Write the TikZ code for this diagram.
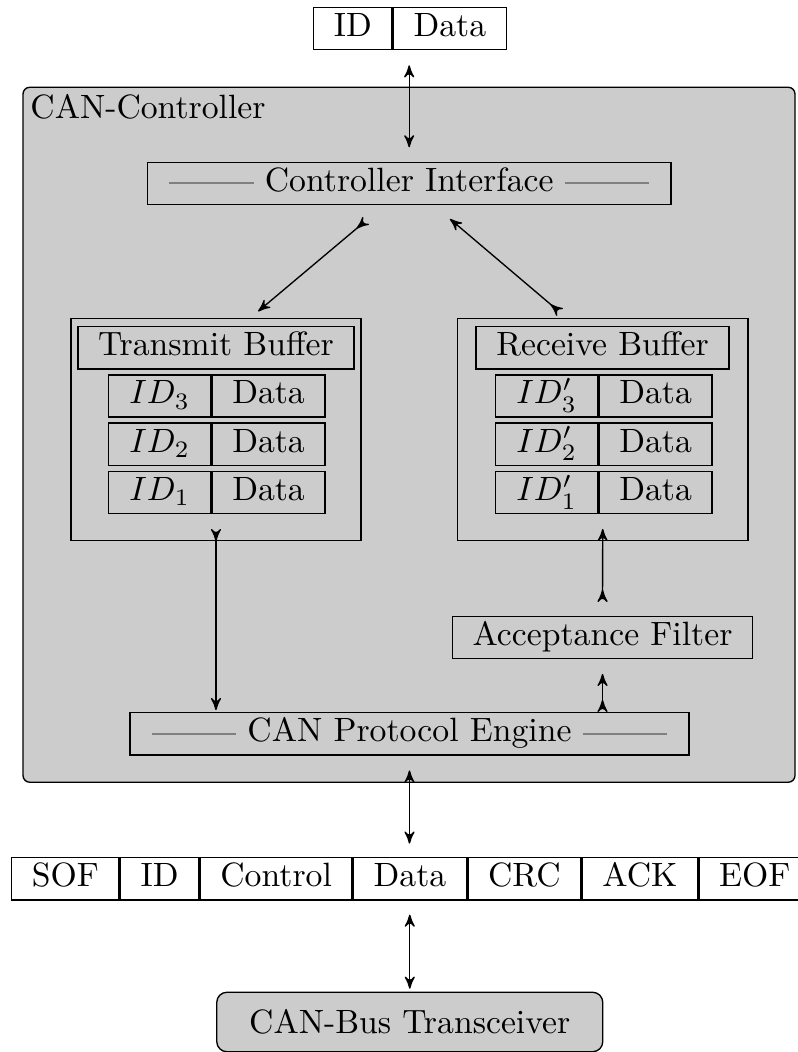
\documentclass[tikz,border=0pt]{standalone}
\usepackage{color}
\usepackage{amsmath}
\usetikzlibrary{arrows}

\newcommand{\sideline}{\textcolor{gray}{\rule[0.5ex]{25pt}{0.6pt}}}

\begin{document}
\begin{tikzpicture}[>=stealth',
  cell/.style={draw, inner xsep=6pt, inner ysep=0pt, minimum height=0.44cm,
    text height=1.5ex, text depth=.4ex},
  idcell/.style={cell, minimum width=1.064cm}]
  \useasboundingbox (0,0) rectangle (8.311,-10.970);

  \node[draw, fill=black!20, rounded corners=2pt, minimum width=8.05cm,
    minimum height=7.247cm] (ctrl) at (4.265,-4.5335) {};
  \node[anchor=north west, inner sep=2.2pt] (ctrllabel) at (ctrl.north west) {CAN-Controller};

  \node[cell, anchor=west] (topid) at (3.264,-0.299) {ID};
  \node[cell, anchor=west] (topdata) at (topid.east) {Data};

  \node[cell, minimum width=5.46cm] (iface) at (4.267,-1.913)
    {\sideline\ Controller Interface\ \sideline};

  \node[draw, minimum width=3.024cm, minimum height=2.315cm] (txbuf) at (2.252,-4.481) {};
  \node[cell] (txtitle) at (2.252,-3.627) {Transmit Buffer};
  \node[draw, minimum width=3.029cm, minimum height=2.315cm] (rxbuf) at (6.285,-4.481) {};
  \node[cell] (rxtitle) at (6.283,-3.627) {Receive Buffer};
  \foreach \i/\y in {3/-4.129, 2/-4.632, 1/-5.138} {
    \node[idcell, anchor=west] (txid\i) at (1.126,\y) {$ID_\i$};
    \node[cell, anchor=west] (txdata\i) at (txid\i.east) {Data};
    \node[idcell, anchor=west] (rxid\i) at (5.162,\y) {$ID'_\i$};
    \node[cell, anchor=west] (rxdata\i) at (rxid\i.east) {Data};
  }

  \node[cell] (filter) at (6.283,-6.650) {Acceptance Filter};
  \node[cell, minimum width=5.829cm] (engine) at (4.270,-7.652)
    {\sideline\ CAN Protocol Engine\ \sideline};

  \node[cell, anchor=west] (sof) at (0.115,-9.164) {SOF};
  \foreach \name/\txt [remember=\name as \prev (initially sof)] in
    {fid/ID, ctl/Control, fdata/Data, crc/CRC, ack/ACK, eof/EOF}
    \node[cell, anchor=west] (\name) at (\prev.east) {\txt};

  \node[draw, fill=black!20, rounded corners=3pt, minimum width=4.025cm,
    minimum height=0.62cm] (xcvr) at (4.273,-10.657) {CAN-Bus Transceiver};

  \draw[<->, shorten <=0.155cm, shorten >=0.15cm] (iface.north |- topdata.south) -- (iface.north);
  \draw[>->] ([xshift=-0.45cm,yshift=-0.16cm]iface.south) -- ([xshift=0.44cm,yshift=0.07cm]txbuf.north);
  \draw[>->] ([xshift=-0.446cm,yshift=0.06cm]rxbuf.north) -- ([xshift=0.425cm,yshift=-0.143cm]iface.south);
  \draw[>->, shorten >=0.02cm] ([yshift=0.13cm]txbuf.south) -- (txbuf.south |- engine.north);
  \draw[>->] ([yshift=0.146cm]filter.north) -- ([yshift=0.13cm]rxbuf.south);
  \draw[>->] (filter.south |- engine.north) -- ([yshift=-0.15cm]filter.south);
  \draw[<->, shorten <=0.155cm, shorten >=0.14cm] (engine.south) -- (engine.south |- fdata.north);
  \draw[<->, shorten <=0.146cm, shorten >=0.03cm] (xcvr.north |- fdata.south) -- (xcvr.north);
\end{tikzpicture}
\end{document}
